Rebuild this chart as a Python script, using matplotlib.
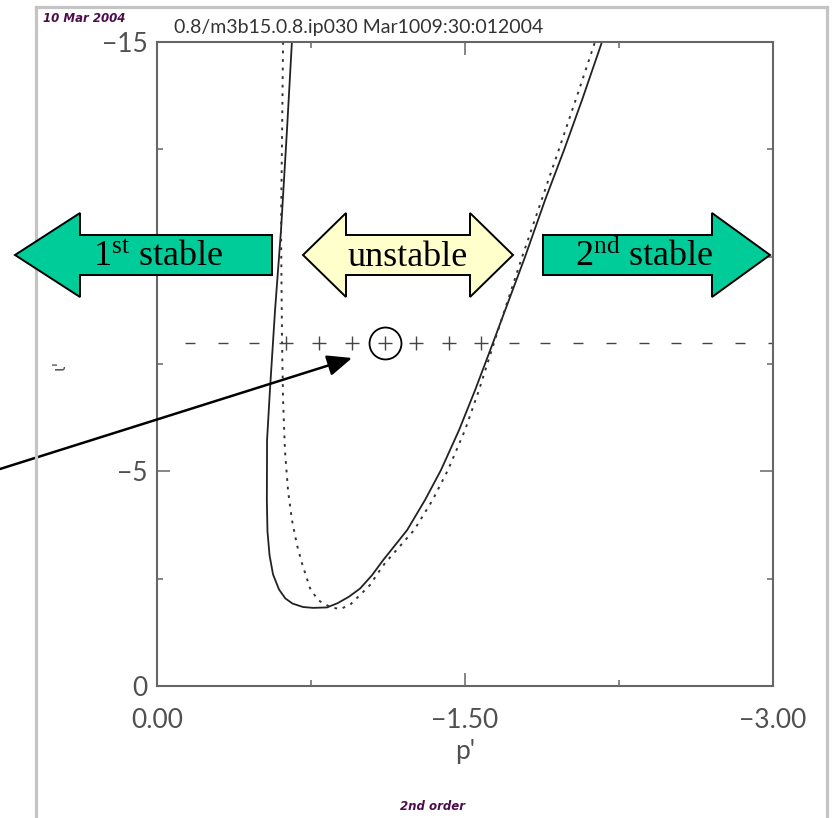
import matplotlib
matplotlib.use("Agg")
import matplotlib.pyplot as plt
from matplotlib.patches import Polygon
from matplotlib.lines import Line2D
from matplotlib.ticker import FuncFormatter

plt.rcParams["mathtext.fontset"] = "custom"
plt.rcParams["mathtext.rm"] = "Liberation Serif"
plt.rcParams["mathtext.it"] = "Liberation Serif:italic"

# Marginal stability boundary in the (p', iota') plane: full calculation
p_full = [-0.657, -0.633, -0.604, -0.575, -0.550, -0.536, -0.535, -0.538, -0.548,
          -0.565, -0.594, -0.625, -0.660, -0.711, -0.760, -0.828, -0.880, -0.935,
          -0.989, -1.047, -1.101, -1.218, -1.305, -1.383, -1.471, -1.549, -1.636,
          -1.714, -1.792, -1.890, -1.982, -2.070, -2.167]
iota_full = [-15.0, -12.95, -10.62, -8.76, -6.89, -5.73, -4.33, -3.60, -3.05,
             -2.60, -2.25, -2.04, -1.92, -1.84, -1.82, -1.83, -1.93, -2.08,
             -2.27, -2.58, -2.93, -3.63, -4.33, -5.03, -5.96, -6.89, -7.99,
             -8.99, -9.99, -11.32, -12.48, -13.65, -15.0]

# Same boundary from the 2nd order expansion
p_2nd = [-0.614, -0.604, -0.609, -0.614, -0.623, -0.638, -0.657, -0.682, -0.706,
         -0.745, -0.784, -0.843, -0.891, -0.940, -0.989, -1.037, -1.076, -1.110,
         -1.252, -1.342, -1.417, -1.500, -1.568, -1.641, -1.709, -1.778, -1.873,
         -1.956, -2.039, -2.133]
iota_2nd = [-15.0, -10.62, -7.99, -6.66, -5.50, -4.56, -3.87, -3.28, -2.86,
            -2.28, -2.00, -1.84, -1.79, -1.89, -2.12, -2.35, -2.63, -2.86,
            -3.63, -4.33, -5.03, -5.96, -6.89, -7.99, -8.99, -9.99, -11.32,
            -12.48, -13.65, -15.0]

# Pressure-gradient scan at fixed shear
p_scan = [-0.16, -0.32, -0.47, -0.63, -0.79, -0.95, -1.11, -1.26, -1.42, -1.58,
          -1.74, -1.89, -2.05, -2.21, -2.37, -2.53, -2.68, -2.84, -3.00]
iota_scan = -8.0
scan_unstable = [False, False, False, True, True, True, True, True, True, True,
                 False, False, False, False, False, False, False, False, False]
p_base = -1.11

x_ticks = [0.0, -1.5, -3.0]
x_minor = [-0.75, -2.25]
y_ticks = [0, -5, -10, -15]
y_labels = ["0", "\u22125", "", "\u221215"]
y_minor = [-2.5, -7.5, -12.5]

W, H = 834, 818
fig = plt.figure(figsize=(W / 100, H / 100), dpi=100)


def fx(x):
    return x / W


def fy(y):
    return 1 - y / H


ax = fig.add_axes([fx(157), fy(686), (773 - 157) / W, (686 - 42) / H])
ax.set_xlim(0, -3)
ax.set_ylim(0, -15)

ax.plot(p_full, iota_full, color="#222222", lw=1.3)
ax.plot(p_2nd, iota_2nd, color="#333333", lw=1.4, ls=(0, (1.4, 3.0)))

p_st = [p for p, u in zip(p_scan, scan_unstable) if not u]
p_un = [p for p, u in zip(p_scan, scan_unstable) if u]
ax.plot(p_st, [iota_scan] * len(p_st), ls="none", marker="_", ms=7.5, mew=1.0,
        color="#444444")
ax.plot(p_un, [iota_scan] * len(p_un), ls="none", marker="+", ms=10, mew=1.0,
        color="#444444")
ax.plot([p_base], [iota_scan], ls="none", marker="o", ms=23, mfc="none",
        mec="black", mew=1.3)

ax.set_xticks(x_ticks)
ax.set_xticks(x_minor, minor=True)
ax.set_yticks(y_ticks)
ax.set_yticklabels(y_labels)
ax.set_yticks(y_minor, minor=True)
ax.xaxis.set_major_formatter(
    FuncFormatter(lambda v, _: "0.00" if v == 0 else f"{v:.2f}".replace("-", "\u2212")))
ax.tick_params(which="both", direction="in", top=True, right=True,
               color="#666666", width=1.1, labelcolor="#505050", labelsize=19)
ax.tick_params(which="major", length=9.5)
ax.tick_params(which="minor", length=4.5)
ax.tick_params(axis="x", pad=16)
ax.tick_params(axis="y", pad=7)
for lab in ax.get_xticklabels() + ax.get_yticklabels():
    lab.set_fontfamily("Lato")
for sp in ax.spines.values():
    sp.set_color("#666666")
    sp.set_linewidth(1.5)

ax.set_xlabel("p'", fontsize=19, color="#505050", labelpad=4, family="Lato")
fig.text(fx(60), fy(365), "\u03b9'", rotation=90, fontsize=12, color="#555555",
         ha="center", va="center", family="DejaVu Sans")

# outer page frame
frame_kw = dict(color="#c4c4c4", lw=2.3, transform=fig.transFigure)
fig.add_artist(Line2D([fx(36), fx(36)], [fy(7), fy(820)], **frame_kw))
fig.add_artist(Line2D([fx(36), fx(827)], [fy(7), fy(7)], **frame_kw))
fig.add_artist(Line2D([fx(827), fx(827)], [fy(7), fy(820)], **frame_kw))

fig.text(fx(43), fy(19), "10 Mar 2004", fontsize=8.5, color="#4d0d4d",
         weight="bold", style="italic", va="center", ha="left",
         family=["Liberation Sans Narrow", "DejaVu Sans"])
fig.text(fx(174), fy(27), "0.8/m3b15.0.8.ip030 Mar1009:30:012004", fontsize=14,
         color="#333333", va="center", ha="left", family="Lato")
fig.text(fx(432), fy(806), "2nd order", fontsize=8.5, color="#4d0d4d",
         weight="bold", style="italic", va="center", ha="center",
         family=["Liberation Sans Narrow", "DejaVu Sans"])

# regime arrows
yc, hh, bh = 255, 42, 20


def arrow_poly(pts, color):
    poly = Polygon([(fx(x), fy(y)) for x, y in pts], closed=True,
                   transform=fig.transFigure, facecolor=color,
                   edgecolor="black", lw=1.4, zorder=10)
    fig.add_artist(poly)


green = "#00cc99"
arrow_poly([(15, yc), (80, yc - hh), (80, yc - bh), (272, yc - bh),
            (272, yc + bh), (80, yc + bh), (80, yc + hh)], green)
arrow_poly([(303, yc), (346, yc - hh), (346, yc - bh), (470, yc - bh),
            (470, yc - hh), (513, yc), (470, yc + hh), (470, yc + bh),
            (346, yc + bh), (346, yc + hh)], "#ffffcc")
arrow_poly([(543, yc - bh), (712, yc - bh), (712, yc - hh), (770, yc),
            (712, yc + hh), (712, yc + bh), (543, yc + bh)], green)

lab_kw = dict(fontsize=26, family="Liberation Serif", color="black",
              ha="center", va="center", zorder=11)
fig.text(fx(158), fy(257), r"1$^{\mathrm{st}}$ stable", **lab_kw)
fig.text(fx(408), fy(257), "unstable", **lab_kw)
fig.text(fx(644), fy(257), r"2$^{\mathrm{nd}}$ stable", **lab_kw)

ax.annotate("", xy=(-0.95, -7.64), xycoords="data",
            xytext=(0, H - 469), textcoords="figure pixels",
            arrowprops=dict(arrowstyle="-|>,head_length=0.75,head_width=0.32",
                            mutation_scale=20, lw=1.8, color="black",
                            shrinkA=0, shrinkB=0),
            annotation_clip=False)

fig.savefig("out.png", dpi=100)
